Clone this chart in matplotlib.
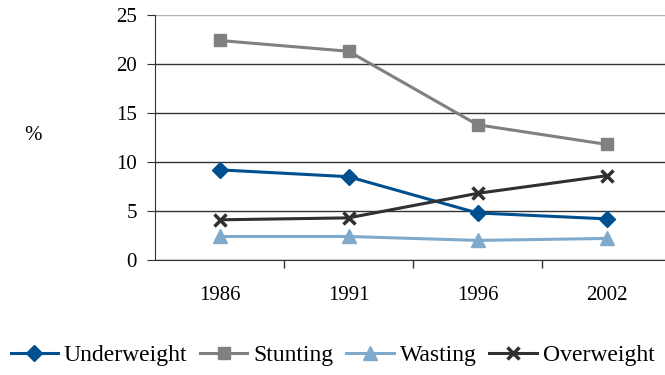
import matplotlib.pyplot as plt

years = ["1986", "1991", "1996", "2002"]
underweight = [9.2, 8.5, 4.8, 4.2]
stunting = [22.4, 21.3, 13.8, 11.8]
wasting = [2.4, 2.4, 2.0, 2.2]
overweight = [4.1, 4.3, 6.8, 8.6]

plt.rcParams["font.family"] = ["Liberation Serif", "DejaVu Serif"]

fig = plt.figure(figsize=(6.65, 3.75), dpi=100)
ax = fig.add_axes([155 / 665, 1 - 260 / 375, 516 / 665, 245 / 375])

x = range(len(years))
series = [
    ("Underweight", underweight, "#00508F", "D", 8.5),
    ("Stunting", stunting, "#808080", "s", 8.5),
    ("Wasting", wasting, "#80AACC", "^", 10),
    ("Overweight", overweight, "#303030", "x", 8),
]
for label, vals, color, marker, ms in series:
    ax.plot(x, vals, color=color, linewidth=2.2, marker=marker, markersize=ms,
            markeredgewidth=2.5 if marker == "x" else 1, markeredgecolor=color,
            label=label, zorder=3)

ax.set_xlim(-0.5, 3.5)
ax.set_ylim(0, 25)
ax.set_yticks(range(0, 26, 5))
ax.set_xticks([i - 0.5 for i in range(1, 4)], minor=False)
ax.set_xticklabels([])
ax.set_xticks(list(x), minor=True)
ax.set_xticklabels(years, minor=True, fontsize=15)
ax.tick_params(axis="x", which="minor", length=0, pad=19)
ax.tick_params(axis="x", which="major", length=6, width=1, color="#333333")
ax.tick_params(axis="y", length=6, pad=7, labelsize=15, color="#333333")
ax.grid(axis="y", color="#333333", linewidth=1)
ax.get_ygridlines()[-1].set_color("#B0B0B0")
for side in ["top", "right"]:
    ax.spines[side].set_visible(False)
for side in ["left", "bottom"]:
    ax.spines[side].set_color("#333333")
ax.set_axisbelow(True)

fig.text(33 / 665, 1 - 135 / 375, "%", fontsize=15, ha="center", va="center")

fig.legend(loc="center", bbox_to_anchor=(0.5, 1 - 355 / 375), ncol=4,
           frameon=False, fontsize=17, handlelength=2.0, handletextpad=0.25,
           columnspacing=0.55, borderaxespad=0)

fig.savefig("out.png", dpi=100)
